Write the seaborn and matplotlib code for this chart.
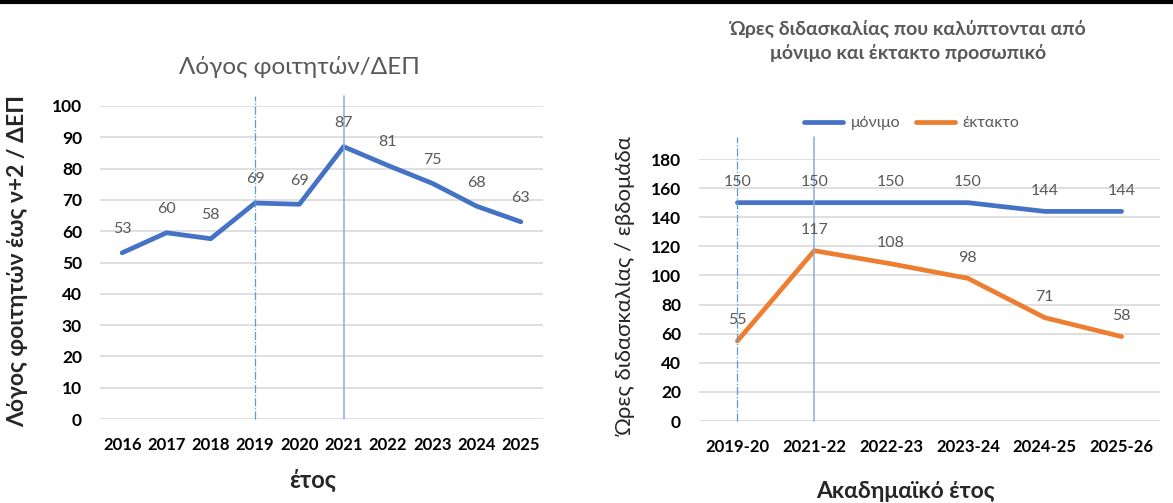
import pandas as pd
import numpy as np
import matplotlib
matplotlib.use("Agg")
import matplotlib.pyplot as plt
import seaborn as sns
from matplotlib.lines import Line2D
from matplotlib.transforms import blended_transform_factory

# left chart: students per faculty member
years = ["2016", "2017", "2018", "2019", "2020", "2021", "2022", "2023", "2024", "2025"]
ratio = [53.1, 59.5, 57.6, 69.0, 68.6, 87.0, 81.0, 75.3, 68.0, 63.0]

# right chart: teaching hours per week
acad_years = ["2019-20", "2021-22", "2022-23", "2023-24", "2024-25", "2025-26"]
permanent = [150, 150, 150, 150, 144, 144]
temporary = [55, 117, 108, 98, 71, 58]

BLUE = "#4472C4"
ORANGE = "#ED7D31"
GRID = "#D9D9D9"
GREY = "#595959"
VLINE = "#8EA9DB"

sns.set_theme(style="white")
plt.rcParams['font.family'] = ['Lato', 'Noto Sans', 'DejaVu Sans']

W, H = 1173, 503
fig = plt.figure(figsize=(W / 100, H / 100), dpi=100)

def px(x, y):
    return x / W, 1 - y / H

def style_axes(ax, ymax, step, n):
    ax.set_ylim(0, ymax)
    ax.set_yticks(np.arange(0, ymax + 1, step))
    ax.set_xlim(-0.5, n - 0.5)
    ax.grid(axis="y", color=GRID, linewidth=1.2)
    ax.grid(axis="x", visible=False)
    ax.set_axisbelow(True)
    for s in ax.spines.values():
        s.set_visible(False)
    ax.tick_params(axis="both", length=0, colors="#000000")
    ax.tick_params(axis="y", labelsize=12.5, pad=13)
    ax.tick_params(axis="x", labelsize=12, pad=13)
    for lbl in ax.get_xticklabels() + ax.get_yticklabels():
        lbl.set_fontweight("bold")
    ax.set_xlabel("")
    ax.set_ylabel("")

# ---- left chart ----
ax1 = fig.add_axes([100 / W, 1 - 419 / H, 443 / W, 313 / H])
df1 = pd.DataFrame({"year": years, "ratio": ratio})
sns.lineplot(data=df1, x="year", y="ratio", color=BLUE, linewidth=3.4, ax=ax1,
             solid_capstyle="round")
style_axes(ax1, 100, 10, len(years))
for i, v in enumerate(ratio):
    ax1.annotate(f"{v:.0f}", (i, v), xytext=(0, 17), textcoords="offset points",
                 ha="center", va="center", fontsize=11.5, color=GREY)
tr1 = blended_transform_factory(ax1.transData, ax1.transAxes)
ax1.add_line(Line2D([3, 3], [0, 1.032], transform=tr1, color="#5B9BD5",
                    linewidth=0.9, linestyle="-.", clip_on=False))
ax1.add_line(Line2D([5, 5], [0, 1.032], transform=tr1, color=VLINE,
                    linewidth=1.1, clip_on=False))

fig.text(*px(299, 67), "Λόγος φοιτητών/ΔΕΠ", ha="center", va="center",
         fontsize=17.5, color=GREY)
fig.text(*px(18, 261), "Λόγος φοιτητών έως ν+2 / ΔΕΠ", ha="center", va="center",
         rotation=90, fontsize=16.5, fontweight="bold")
fig.text(*px(313, 480), "έτος", ha="center", va="center", fontsize=17,
         fontweight="bold")

# ---- right chart ----
ax2 = fig.add_axes([699 / W, 1 - 421 / H, 461 / W, 262 / H])
df2 = pd.DataFrame({
    "year": acad_years * 2,
    "hours": permanent + temporary,
    "staff": ["μόνιμο"] * len(acad_years) + ["έκτακτο"] * len(acad_years),
})
sns.lineplot(data=df2, x="year", y="hours", hue="staff",
             palette={"μόνιμο": BLUE, "έκτακτο": ORANGE}, linewidth=3.4, ax=ax2,
             legend=False)
style_axes(ax2, 180, 20, len(acad_years))
for series in (permanent, temporary):
    for i, v in enumerate(series):
        ax2.annotate(f"{v}", (i, v), xytext=(0, 15), textcoords="offset points",
                     ha="center", va="center", fontsize=11.5, color=GREY)
tr2 = blended_transform_factory(ax2.transData, ax2.transAxes)
ax2.add_line(Line2D([0, 0], [0, 1.084], transform=tr2, color="#5B9BD5",
                    linewidth=0.9, linestyle="-.", clip_on=False))
ax2.add_line(Line2D([1, 1], [0, 1.084], transform=tr2, color=VLINE,
                    linewidth=1.1, clip_on=False))

handles = [Line2D([], [], color=BLUE, linewidth=3.4),
           Line2D([], [], color=ORANGE, linewidth=3.4)]
fig.legend(handles, ["μόνιμο", "έκτακτο"], loc="center", bbox_to_anchor=px(912, 123),
           ncol=2, frameon=False, fontsize=11.5, labelcolor=GREY, handlelength=2.4,
           columnspacing=1.0, handletextpad=0.5)

fig.text(*px(908, 41), "Ώρες διδασκαλίας που καλύπτονται από\nμόνιμο και έκτακτο προσωπικό",
         ha="center", va="center", fontsize=14, fontweight="bold", color=GREY,
         linespacing=1.4)
fig.text(*px(626, 286), "Ώρες διδασκαλίας / εβδομάδα", ha="center", va="center",
         rotation=90, fontsize=16)
fig.text(*px(905, 492), "Ακαδημαϊκό έτος", ha="center", va="center", fontsize=16.5,
         fontweight="bold")

# top border line
fig.add_artist(Line2D([0, 1], [1 - 2 / H, 1 - 2 / H], transform=fig.transFigure,
                      color="black", linewidth=3))

fig.savefig("out.png", dpi=100)
